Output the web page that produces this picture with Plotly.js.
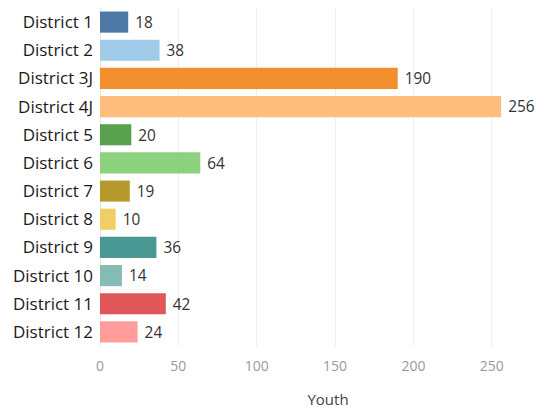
<!DOCTYPE html>
<html><head><meta charset="utf-8">
<script src="https://cdn.plot.ly/plotly-3.0.1.min.js"></script>
<style>html,body{margin:0;padding:0;background:#fff}#chart{width:556px;height:409px}</style>
</head><body><div id="chart"></div>
<script>
const districts = ["District 1","District 2","District 3J","District 4J","District 5","District 6","District 7","District 8","District 9","District 10","District 11","District 12"];
const youth = [18,38,190,256,20,64,19,10,36,14,42,24];
const colors = ["#4e79a7","#a0cbe8","#f28e2b","#ffbe7d","#59a14f","#8cd17d","#b6992d","#f1ce63","#499894","#86bcb6","#e15759","#ff9d9a"];
const xTicks = [0,50,100,150,200,250];

Plotly.newPlot("chart", [{
  type: "bar", orientation: "h",
  y: districts, x: youth,
  marker: {color: colors},
  texttemplate: " %{x}", textposition: "outside",
  textfont: {family: "'Open Sans', sans-serif", size: 16, color: "#333"},
  cliponaxis: false, hoverinfo: "none"
}], {
  width: 556, height: 409,
  margin: {l: 100, r: 0, t: 8, b: 63},
  paper_bgcolor: "#fff", plot_bgcolor: "#fff",
  bargap: 0.25,
  showlegend: false,
  font: {family: "'Open Sans', sans-serif"},
  xaxis: {
    range: [0, 291], tickvals: xTicks, ticktext: xTicks.map(String),
    showgrid: true, gridcolor: "#eeeeee", gridwidth: 1,
    zeroline: true, zerolinecolor: "#e6e6e6",
    showline: false, ticks: "",
    tickfont: {size: 14, color: "#999"},
    ticklabelstandoff: 10,
    title: {text: "Youth", font: {size: 15, color: "#444"}, standoff: 22},
    fixedrange: true
  },
  yaxis: {
    autorange: "reversed", type: "category",
    showgrid: false, zeroline: false, showline: false, ticks: "",
    tickfont: {size: 17, color: "#1a1a1a"},
    ticklabelstandoff: 6,
    fixedrange: true
  }
}, {displayModeBar: false, staticPlot: true});
</script></body></html>
